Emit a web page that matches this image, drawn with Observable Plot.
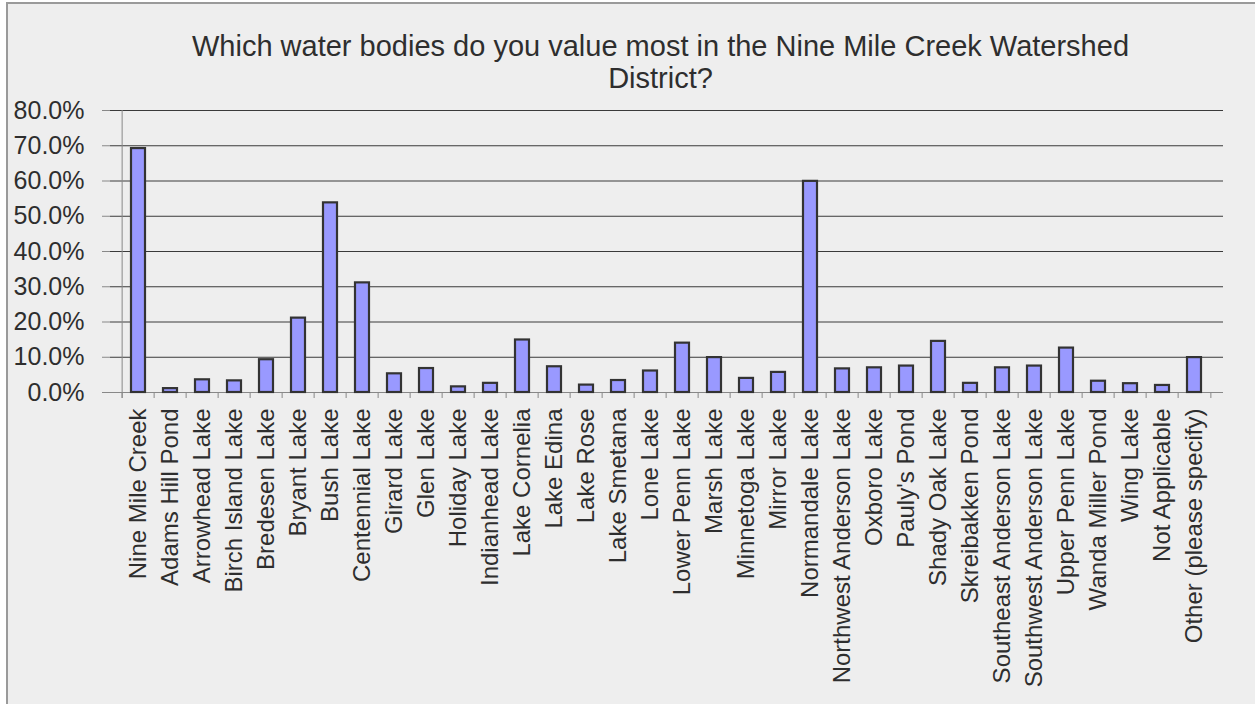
<!DOCTYPE html>
<html>
<head>
<meta charset="utf-8">
<script src="https://cdn.jsdelivr.net/npm/d3@7"></script>
<script src="https://cdn.jsdelivr.net/npm/@observablehq/plot@0.6"></script>
<style>
  html, body { margin: 0; padding: 0; background: #ffffff; }
  #wrap { position: relative; width: 1255px; height: 704px; overflow: hidden; }
  #panel { position: absolute; left: 6px; top: 2px; width: 1300px; height: 760px;
           background: #eeeeee; border-left: 2px solid #9a9a9a; border-top: 2px solid #9a9a9a; }
  #title { position: absolute; left: 104px; width: 1113px; top: 30px; text-align: center;
           font-family: "Liberation Sans", Arial, sans-serif; font-size: 29px; line-height: 32px; color: #2e2e2e; }
  #chart { position: absolute; left: 0; top: 0; }
</style>
</head>
<body>
<div id="wrap">
  <div id="panel"></div>
  <div id="chart"></div>
  <div id="title">Which water bodies do you value most in the Nine Mile Creek Watershed<br>District?</div>
</div>
<script>
const categories = [
  "Nine Mile Creek", "Adams Hill Pond", "Arrowhead Lake", "Birch Island Lake", "Bredesen Lake",
  "Bryant Lake", "Bush Lake", "Centennial Lake", "Girard Lake", "Glen Lake",
  "Holiday Lake", "Indianhead Lake", "Lake Cornelia", "Lake Edina", "Lake Rose",
  "Lake Smetana", "Lone Lake", "Lower Penn Lake", "Marsh Lake", "Minnetoga Lake",
  "Mirror Lake", "Normandale Lake", "Northwest Anderson Lake", "Oxboro Lake", "Pauly's Pond",
  "Shady Oak Lake", "Skreibakken Pond", "Southeast Anderson Lake", "Southwest Anderson Lake", "Upper Penn Lake",
  "Wanda Miller Pond", "Wing Lake", "Not Applicable", "Other (please specify)"
];
const values = [
  0.692, 0.011, 0.036, 0.033, 0.093,
  0.211, 0.538, 0.311, 0.053, 0.068,
  0.016, 0.026, 0.149, 0.073, 0.021,
  0.034, 0.061, 0.140, 0.099, 0.040,
  0.057, 0.599, 0.067, 0.070, 0.075,
  0.145, 0.026, 0.070, 0.075, 0.126,
  0.032, 0.025, 0.020, 0.099
];
const yTicks = [0, 0.1, 0.2, 0.3, 0.4, 0.5, 0.6, 0.7, 0.8];

const data = categories.map((name, i) => ({name, value: values[i]}));

const W = 1255, H = 704, ML = 110, MR = 32, MT = 110, MB = 312;
const step = (W - ML - MR) / categories.length;
const fmt = d => (d * 100).toFixed(1) + "%";

const chart = Plot.plot({
  width: W, height: H,
  marginLeft: ML, marginRight: MR, marginTop: MT, marginBottom: MB,
  style: {background: "transparent", fontFamily: "Liberation Sans, Arial, sans-serif", color: "#2e2e2e", overflow: "visible"},
  x: {domain: categories, paddingInner: 0.56, paddingOuter: 0.28, label: null},
  y: {domain: [0, 0.8], label: null},
  marks: [
    Plot.gridY(yTicks, {stroke: "#3a3a3a", strokeOpacity: 1, strokeWidth: 1}),
    Plot.axisY(yTicks, {tickFormat: fmt, tickSize: 8, tickPadding: 18, fontSize: 25, stroke: "#888", label: null}),
    Plot.axisX({tickRotate: -90, tickSize: 0, tickPadding: 16, fontSize: 24, label: null}),
    Plot.ruleX(categories, {x: d => d, dx: -step / 2, y1: 0, y2: -0.017, stroke: "#888"}),
    Plot.ruleX(categories.slice(-1), {x: d => d, dx: step / 2, y1: 0, y2: -0.017, stroke: "#888"}),
    Plot.ruleX(categories.slice(0, 1), {x: d => d, dx: -step / 2, y1: -0.017, y2: 0.8, stroke: "#888"}),
    Plot.ruleY([0], {stroke: "#888"}),
    Plot.barY(data, {x: "name", y: "value", fill: "#9999ff", stroke: "#333333", strokeWidth: 2.2})
  ]
});
document.getElementById("chart").appendChild(chart);
</script>
</body>
</html>
